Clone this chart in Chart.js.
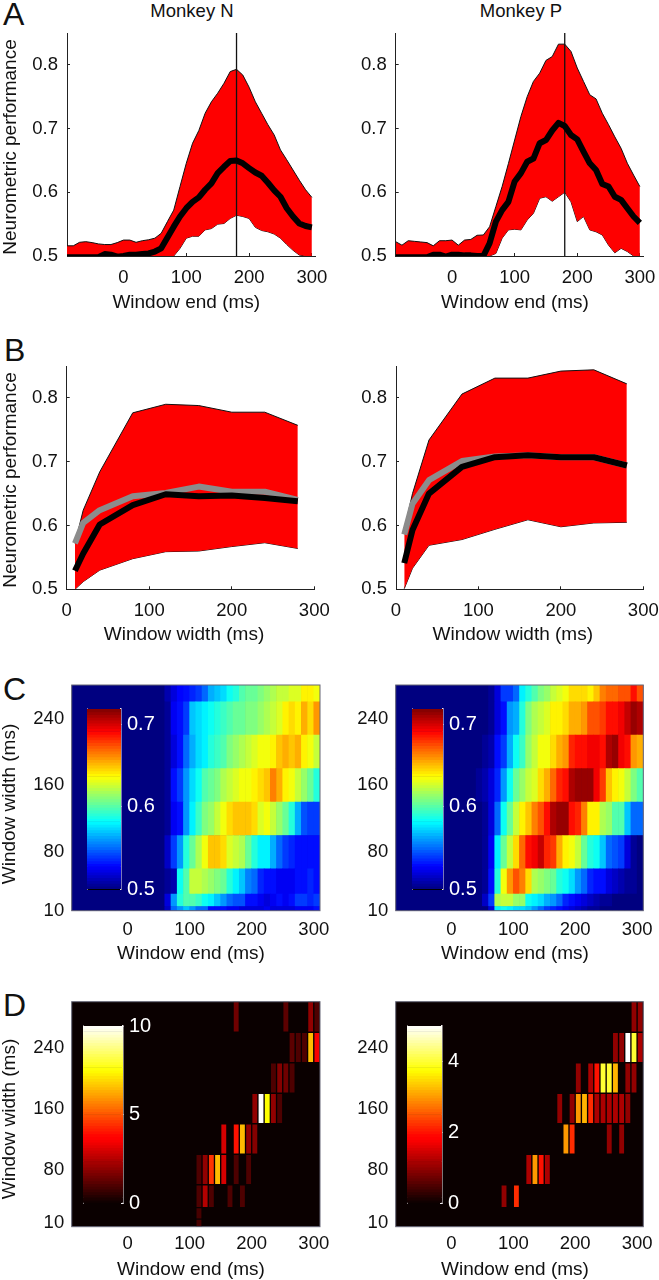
<!DOCTYPE html>
<html lang="en">
<head>
  <meta charset="UTF-8">
  <title>Neurometric performance</title>
  <script src="https://cdn.jsdelivr.net/npm/chart.js"></script>
  <style>
    body { margin: 0; background: #fff; font-family: "Liberation Sans", Arial, sans-serif; color: #111; }
    #page { position: relative; width: 659px; height: 1280px; overflow: hidden; }
    canvas { position: absolute; }
    .letter { position: absolute; font-size: 32px; line-height: 32px; }
    .monkey { position: absolute; top: 0; width: 200px; text-align: center; font-size: 18.5px; line-height: 22px; }
    .axis-label { position: absolute; white-space: nowrap; font-size: 19px; line-height: 22px; z-index: 2; }
  </style>
</head>
<body>
  <div id="page">
    <div class="letter" style="left:3px;top:-2px">A</div>
    <div class="letter" style="left:4px;top:334px">B</div>
    <div class="letter" style="left:3px;top:673px">C</div>
    <div class="letter" style="left:3px;top:989px">D</div>
    <div class="monkey" style="left:92px">Monkey N</div>
    <div class="monkey" style="left:421px">Monkey P</div>
  </div>

  <script>
    // window end axis, panel A
    const xEnd = [-90,-80,-70,-60,-50,-40,-30,-20,-10,0,10,20,30,40,50,60,70,80,90,100,110,120,130,140,150,160,170,180,190,200,210,220,230,240,250,260,270,280,290,300];
    const upperAN = [.516,.516,.5215,.5225,.521,.519,.518,.518,.521,.525,.525,.5215,.524,.5255,.528,.5356,.554,.572,.609,.6455,.677,.697,.724,.742,.7555,.771,.7895,.793,.784,.765,.742,.724,.706,.69,.6665,.651,.635,.619,.604,.592];
    const lowerAN = [.5,.5,.5,.5,.5,.5,.5,.5,.5,.5,.5,.5,.5,.5,.5,.5,.5,.5,.512,.528,.531,.531,.541,.543,.55,.551,.559,.564,.562,.559,.545,.54,.538,.5345,.528,.518,.509,.5015,.5,.5];
    const meanAN = [.498,.498,.498,.498,.498,.498,.503,.502,.499,.5,.502,.502,.503,.504,.507,.512,.529,.546,.562,.575,.585,.592,.604,.614,.63,.64,.649,.65,.6455,.638,.631,.626,.615,.603,.593,.575,.562,.551,.547,.545];
    const upperAP = [.5225,.517,.524,.523,.522,.521,.516,.524,.524,.525,.517,.525,.526,.5325,.533,.546,.5775,.609,.645,.682,.719,.75,.774,.787,.807,.813,.8325,.8325,.821,.795,.774,.753,.7466,.724,.706,.687,.669,.6455,.627,.609];
    const lowerAP = [.5,.5,.5,.5,.5,.5,.5,.5,.5,.5,.5,.5,.5,.5,.5,.5,.504,.528,.541,.542,.541,.5565,.567,.5906,.593,.586,.593,.6,.585,.554,.562,.541,.538,.533,.517,.505,.512,.507,.5,.5];
    const meanAP = [.498,.498,.498,.498,.498,.498,.502,.502,.499,.502,.502,.501,.501,.5,.5,.52,.554,.572,.585,.617,.63,.648,.653,.677,.682,.697,.709,.704,.69,.683,.664,.6455,.635,.613,.609,.593,.588,.575,.562,.552];
    const peakWindow = [180, 180];
    const peakSpan = [.5, .85];

    // window width axis, panel B
    const xWidth = [10,20,40,80,120,160,200,240,280];
    const upperBN = [.572,.624,.684,.7766,.79,.788,.7776,.7776,.757];
    const lowerBN = [.5,.512,.53,.548,.559,.56,.567,.573,.564];
    const meanBN = [.529,.556,.6016,.632,.649,.646,.647,.643,.638];
    const greyBN = [.572,.604,.624,.646,.651,.661,.653,.653,.64];
    const upperBP = [.593,.65,.734,.806,.831,.831,.842,.844,.822];
    const lowerBP = [.501,.533,.569,.578,.594,.609,.598,.604,.605];
    const meanBP = [.541,.593,.65,.692,.707,.71,.707,.707,.694];
    const greyBP = [.586,.634,.671,.701,.708,.71,.707,.707,.694];

    // heat map columns: each one runs from its start to start + 10
    const colStart = xEnd;
    const cRowEdges = [280,260,220,180,140,100,60,30,15,10];
    const dRowEdges = [300,260,220,180,140,100,60,30,15,5];

    const blue13 = [.5,.5,.5,.5,.5,.5,.5,.5,.5,.5,.5,.5,.5];
    const blue15 = [...blue13,.5,.5];

    // panel C, rows run from top (280) to bottom (10)
    const heatCN = [
      [...blue15,.51,.52,.528,.53,.535,.54,.55,.565,.57,.575,.585,.59,.6,.605,.605,.61,.615,.62,.625,.625,.63,.63,.64,.64,.635],
      [...blue15,.505,.525,.53,.54,.57,.575,.58,.585,.59,.595,.6,.605,.605,.61,.61,.615,.62,.625,.63,.64,.645,.64,.655,.645,.66],
      [...blue15,.505,.52,.53,.55,.565,.575,.58,.59,.595,.6,.61,.615,.62,.625,.63,.635,.635,.64,.65,.655,.65,.655,.64,.635,.625],
      [...blue15,.505,.53,.54,.56,.575,.585,.6,.605,.61,.62,.625,.63,.635,.635,.64,.645,.65,.665,.655,.64,.635,.625,.615,.605,.59],
      [...blue15,.505,.525,.53,.56,.58,.595,.61,.615,.625,.635,.645,.65,.65,.65,.645,.63,.635,.625,.615,.605,.59,.565,.545,.54,.54],
      [...blue15,.515,.54,.56,.59,.605,.62,.635,.65,.65,.645,.63,.625,.62,.605,.59,.58,.58,.565,.55,.54,.535,.53,.53,.53,.53],
      [...blue15,.505,.51,.585,.6,.625,.625,.62,.615,.61,.605,.59,.58,.57,.555,.55,.535,.53,.53,.525,.525,.525,.53,.53,.535,.53],
      [...blue15,.52,.56,.59,.6,.6,.595,.585,.58,.57,.56,.55,.545,.545,.53,.53,.525,.52,.525,.53,.525,.53,.54,.54,.535,.54],
      [...blue15,.515,.55,.56,.57,.56,.55,.55,.53,.53,.53,.525,.525,.52,.52,.52,.52,.525,.52,.52,.52,.52,.525,.525,.525,.53]
    ];
    const heatCP = [
      [...blue13,.5,.5,.505,.52,.54,.54,.55,.58,.59,.6,.61,.615,.625,.63,.635,.645,.645,.645,.64,.65,.665,.67,.67,.675,.675,.69,.675],
      [...blue13,.5,.5,.505,.52,.53,.56,.565,.59,.61,.62,.625,.63,.64,.64,.645,.655,.655,.66,.675,.675,.68,.69,.69,.695,.705,.715,.71],
      [...blue13,.5,.505,.51,.53,.54,.565,.585,.595,.615,.625,.635,.635,.645,.655,.66,.685,.69,.69,.695,.695,.69,.71,.715,.695,.69,.66,.655],
      [...blue13,.505,.51,.52,.535,.56,.585,.605,.615,.625,.63,.645,.655,.67,.685,.69,.71,.715,.715,.715,.695,.68,.65,.64,.635,.625,.61,.6],
      [...blue13,.5,.505,.52,.55,.585,.605,.625,.64,.65,.665,.675,.69,.71,.715,.715,.69,.685,.665,.64,.64,.62,.615,.6,.6,.57,.55,.55],
      [...blue13,.5,.505,.525,.58,.605,.625,.645,.67,.69,.695,.705,.685,.68,.655,.64,.635,.625,.605,.59,.585,.57,.55,.545,.54,.52,.505,.5],
      [...blue13,.5,.505,.53,.59,.635,.66,.675,.665,.645,.62,.615,.61,.605,.59,.585,.575,.56,.55,.535,.53,.53,.52,.515,.51,.505,.505,.5],
      [...blue13,.5,.515,.54,.62,.625,.625,.615,.615,.585,.58,.575,.565,.56,.55,.535,.53,.525,.52,.515,.51,.505,.505,.5,.5,.5,.5,.5],
      [...blue13,.5,.5,.52,.58,.585,.58,.575,.575,.57,.56,.55,.54,.535,.53,.525,.52,.515,.51,.505,.505,.5,.5,.5,.5,.5,.5,.5]
    ];

    // panel D is mostly empty: [row index, column index, count]
    const cellsDN = [
      [0,26,1.5],[0,34,1.2],[0,38,2],[0,39,1],
      [1,35,1.2],[1,36,1],[1,37,1],[1,38,6.5],[1,39,3.5],
      [2,32,1],[2,33,1.8],[2,34,1.5],[2,35,1],
      [3,29,2],[3,30,10],[3,31,7.5],[3,32,2],[3,33,1],
      [4,24,3],[4,26,4],[4,27,6.5],[4,28,2],[4,29,1.8],
      [5,20,1],[5,21,2],[5,22,4.5],[5,23,6.5],[5,24,3],[5,26,1],[5,28,1],
      [6,20,1],[6,21,2.5],[6,22,1],[6,25,1],[6,27,1],
      [7,20,.9],[8,20,.9]
    ];
    const cellsDP = [
      [0,38,1],[0,39,1],
      [1,35,1],[1,36,1],[1,37,5],[1,38,4],[1,39,1.2],
      [2,29,1],[2,31,1.2],[2,32,2],[2,33,4],[2,34,4],[2,35,3.2],[2,37,1],[2,38,1],
      [3,26,1],[3,28,1],[3,29,3],[3,30,3.2],[3,31,2.2],[3,32,1.2],[3,33,1.2],[3,34,1.2],[3,35,1.2],[3,36,1.2],[3,37,1],
      [4,27,3],[4,28,2.2],[4,34,1],[4,36,1],
      [5,21,1.2],[5,22,3],[5,23,2],[5,24,1.2],
      [6,17,1],[6,19,2.2]
    ];

    // tick labels
    const xTicks = [0,100,200,300];
    const perfTicks = [.5,.6,.7,.8];
    const widthTicks = [10,80,160,240];
    const barTicksC = [.5,.6,.7];
    const barTicksDN = [0,5,10];
    const barTicksDP = [0,2,4];

    Chart.defaults.font.family = '"Liberation Sans", Arial, sans-serif';
    Chart.defaults.font.size = 18.5;
    Chart.defaults.color = '#111';

    const clamp = v => Math.max(0, Math.min(1, v));
    const rgb = (r, g, b) => `rgb(${Math.round(r * 255)},${Math.round(g * 255)},${Math.round(b * 255)})`;
    const jet = t => rgb(clamp(Math.min(4 * t - 1.5, 4.5 - 4 * t)), clamp(Math.min(4 * t - .5, 3.5 - 4 * t)), clamp(Math.min(4 * t + .5, 2.5 - 4 * t)));
    const hot = t => rgb(clamp(.04 + t / .375), clamp((t - .375) / .375), clamp((t - .75) / .25));

    const addCanvas = (x, y, w, h) => {
      const c = document.createElement('canvas');
      c.width = w;
      c.height = h;
      c.style.left = x + 'px';
      c.style.top = y + 'px';
      document.getElementById('page').appendChild(c);
      return c;
    };

    // axis titles are not centred on the plots in the figure, so they are page text
    const addLabel = (text, cx, cy, vertical) => {
      const d = document.createElement('div');
      d.className = 'axis-label';
      d.textContent = text;
      d.style.left = cx + 'px';
      d.style.top = cy + 'px';
      d.style.transform = 'translate(-50%,-50%)' + (vertical ? ' rotate(-90deg)' : '');
      document.getElementById('page').appendChild(d);
    };

    // axis whose reserved space is fixed, so the plot area lands where we want it
    const axis = (o) => ({
      type: 'linear',
      position: o.position,
      min: o.min,
      max: o.max,
      offset: false,
      afterFit: s => {
        if (s.isHorizontal()) s.height = o.size; else s.width = o.size;
        s.paddingLeft = s.paddingRight = s.paddingTop = s.paddingBottom = 0;
      },
      afterBuildTicks: s => { s.ticks = o.ticks.map(v => ({ value: v })); },
      border: { display: o.border !== false, color: o.borderColor || '#222', width: o.borderWidth || 1 },
      grid: { drawOnChartArea: false, drawTicks: !!o.tick, tickLength: o.tick || 0, color: o.borderColor || '#222' },
      ticks: {
        display: o.labels !== false,
        autoSkip: false,
        maxRotation: 0,
        padding: o.pad,
        color: o.color || '#111',
        font: { size: o.fontSize || 18.5 },
        callback: o.fmt || (v => String(v))
      }
    });

    const pts = (xs, ys) => xs.map((x, i) => ({ x, y: ys[i] }));
    const lineSet = (xs, ys, color, width, extra) => Object.assign({
      data: pts(xs, ys), borderColor: color, borderWidth: width, pointRadius: 0, tension: 0, fill: false, clip: 0, borderJoinStyle: 'round'
    }, extra);

    const basePlugins = { legend: { display: false }, tooltip: { enabled: false } };

    // A and B panels
    function bandChart(p) {
      const datasets = [lineSet(p.xs, p.mean, '#000', 6)];
      if (p.grey) datasets.push(lineSet(p.xs, p.grey, '#8c8c8c', 6));
      if (p.vline) datasets.push(lineSet(p.vline, peakSpan, '#111', 1.3));
      datasets.push(lineSet(p.xs, p.upper, '#111', 1, { fill: { target: '+1', above: '#fe0000', below: '#fe0000' } }));
      datasets.push(lineSet(p.xs, p.lower, '#111', 1));
      const c = addCanvas(p.cx, p.cy, p.cw, p.ch);
      return new Chart(c, {
        type: 'line',
        data: { datasets },
        options: {
          responsive: false, animation: false, events: [],
          layout: { padding: { top: p.top - p.cy, right: p.cx + p.cw - p.right, left: 0, bottom: 0 } },
          plugins: basePlugins,
          scales: {
            x: axis({ position: 'bottom', min: p.xMin, max: p.xMax, ticks: xTicks, size: p.cy + p.ch - p.bottom, tick: -3, pad: 14 }),
            y: axis({ position: 'left', min: .5, max: .85, ticks: perfTicks, size: p.left - p.cx, tick: -3, pad: 12, fmt: v => v.toFixed(1) })
          }
        }
      });
    }

    const frame = (bg) => ({
      id: 'frame',
      beforeDraw: ch => { const a = ch.chartArea; ch.ctx.fillStyle = bg; ch.ctx.fillRect(a.left, a.top, a.width, a.height); },
      afterDraw: ch => { const a = ch.chartArea; ch.ctx.strokeStyle = '#667'; ch.ctx.lineWidth = 1; ch.ctx.strokeRect(a.left, a.top, a.width, a.height); }
    });

    // C and D panels: every cell is a floating bar on the linear x scale
    function heatChart(p) {
      const c = addCanvas(p.cx, p.cy, p.cw, p.ch);
      return new Chart(c, {
        type: 'bar',
        data: { datasets: [{
          data: p.cells,
          backgroundColor: ctx => ctx.raw ? p.paint(ctx.raw.v) : '#000',
          borderColor: p.gap ? '#0a0000' : undefined,
          borderWidth: p.gap ? 1 : 0,
          borderSkipped: false,
          barPercentage: 1,
          categoryPercentage: 1
        }] },
        options: {
          responsive: false, animation: false, events: [],
          layout: { padding: { top: p.top - p.cy, right: p.cx + p.cw - p.right, left: 0, bottom: 0 } },
          plugins: basePlugins,
          scales: {
            x: axis({ position: 'bottom', min: -90, max: 310, ticks: xTicks, size: p.cy + p.ch - p.bottom, pad: p.tickPad, border: false }),
            y: axis({ position: 'left', min: p.yMin, max: p.yMax, ticks: widthTicks, size: p.left - p.cx, pad: 7.5, border: false })
          }
        },
        plugins: [frame(p.bg)]
      });
    }

    const heatCells = (rows, edges) => rows.flatMap((row, r) => row.map((v, i) => ({ x: colStart[i] + 5, y: [edges[r + 1], edges[r]], v })));
    const sparseCells = (cells, edges) => cells.map(([r, i, v]) => ({ x: colStart[i] + 5, y: [edges[r + 1], edges[r]], v }));

    // colour bars sit on top of the heat maps in their own small charts
    function colorBar(p) {
      const ramp = [];
      for (let i = 0; i < 64; i++) ramp.push(i / 64);
      const span = p.max - p.min;
      const c = addCanvas(p.left, p.top - 16, p.right - p.left + 40, p.bottom - p.top + 32);
      return new Chart(c, {
        type: 'bar',
        data: {
          labels: ['bar'],
          datasets: [{
            data: ramp.map(t => ({ x: 'bar', y: [p.min + t * span, p.min + (t + 1 / 64) * span] })),
            backgroundColor: ramp.map(t => p.paint(t + .5 / 64)),
            borderWidth: 0,
            barThickness: p.right - p.left + 1
          }]
        },
        options: {
          responsive: false, animation: false, events: [],
          layout: { padding: { top: 16, bottom: 16, left: 0, right: 0 } },
          plugins: basePlugins,
          scales: {
            x: { type: 'category', position: 'bottom', offset: true, afterFit: s => { s.height = 0; s.paddingLeft = s.paddingRight = 0; },
                 grid: { display: false }, ticks: { display: false }, border: { display: p.base !== false, color: '#000', width: 1 } },
            y: axis({ position: 'right', min: p.min, max: p.max, ticks: p.ticks, size: 40, tick: -2, pad: p.pad, fmt: p.fmt, color: '#fff', borderColor: '#f2eef2', borderWidth: 1.5, fontSize: 20 }),
            side: axis({ position: 'left', min: p.min, max: p.max, ticks: [], size: 0, labels: false, borderColor: '#f2eef2', borderWidth: 1.5 })
          }
        }
      });
    }

    const cols = [{ cx: 0, cw: 330 }, { cx: 330, cw: 329 }];

    bandChart({ ...cols[0], cy: 25, ch: 290, left: 67, right: 315, top: 33, bottom: 256, xMin: -90, xMax: 305, xs: xEnd, upper: upperAN, lower: lowerAN, mean: meanAN, vline: peakWindow });
    bandChart({ ...cols[1], cy: 25, ch: 290, left: 395.7, right: 643, top: 33, bottom: 256, xMin: -90, xMax: 305, xs: xEnd, upper: upperAP, lower: lowerAP, mean: meanAP, vline: peakWindow });
    bandChart({ ...cols[0], cy: 360, ch: 290, left: 66.7, right: 314.3, top: 366, bottom: 589.3, xMin: 0, xMax: 300, xs: xWidth, upper: upperBN, lower: lowerBN, mean: meanBN, grey: greyBN });
    bandChart({ ...cols[1], cy: 360, ch: 290, left: 396, right: 643.3, top: 366, bottom: 589.3, xMin: 0, xMax: 300, xs: xWidth, upper: upperBP, lower: lowerBP, mean: meanBP, grey: greyBP });

    const paintC = v => jet((v - .5) / .22);
    heatChart({ ...cols[0], cy: 675, ch: 290, left: 71.7, right: 320, top: 685, bottom: 910.7, yMin: 10, yMax: 280, cells: heatCells(heatCN, cRowEdges), paint: paintC, bg: '#00007f', tickPad: 8 });
    heatChart({ ...cols[1], cy: 675, ch: 290, left: 395.7, right: 643.3, top: 685, bottom: 910.7, yMin: 10, yMax: 280, cells: heatCells(heatCP, cRowEdges), paint: paintC, bg: '#00007f', tickPad: 8 });
    heatChart({ ...cols[0], cy: 995, ch: 285, left: 71.7, right: 320, top: 1001.7, bottom: 1226.7, yMin: 5, yMax: 300, cells: sparseCells(cellsDN, dRowEdges), paint: v => hot(v / 10), bg: '#0a0000', gap: true, tickPad: 6 });
    heatChart({ ...cols[1], cy: 995, ch: 285, left: 395.7, right: 643.3, top: 1001.7, bottom: 1226.7, yMin: 5, yMax: 300, cells: sparseCells(cellsDP, dRowEdges), paint: v => hot(v / 5), bg: '#0a0000', gap: true, tickPad: 6 });

    colorBar({ left: 86.7, right: 121, top: 709.3, bottom: 889.3, min: .5, max: .7187, ticks: barTicksC, fmt: v => v.toFixed(1), paint: jet, pad: 8 });
    colorBar({ left: 411.7, right: 442.7, top: 709.3, bottom: 889.3, min: .5, max: .7187, ticks: barTicksC, fmt: v => v.toFixed(1), paint: jet, pad: 8 });
    colorBar({ left: 83.3, right: 123.3, top: 1026, bottom: 1203, min: 0, max: 10, ticks: barTicksDN, paint: hot, pad: 8, base: false });
    colorBar({ left: 406.7, right: 441.7, top: 1026, bottom: 1203, min: 0, max: 5, ticks: barTicksDP, paint: hot, pad: 8, base: false });

    addLabel('Neurometric performance', 10, 147, true);
    addLabel('Neurometric performance', 10, 480, true);
    addLabel('Window width (ms)', 9, 804, true);
    addLabel('Window width (ms)', 9, 1119, true);
    addLabel('Window end (ms)', 186.3, 301.7);
    addLabel('Window end (ms)', 515, 301.7);
    addLabel('Window width (ms)', 184, 634);
    addLabel('Window width (ms)', 512.8, 634);
    addLabel('Window end (ms)', 191, 953);
    addLabel('Window end (ms)', 515, 953);
    addLabel('Window end (ms)', 191, 1269);
    addLabel('Window end (ms)', 515, 1269);
  </script>
</body>
</html>
